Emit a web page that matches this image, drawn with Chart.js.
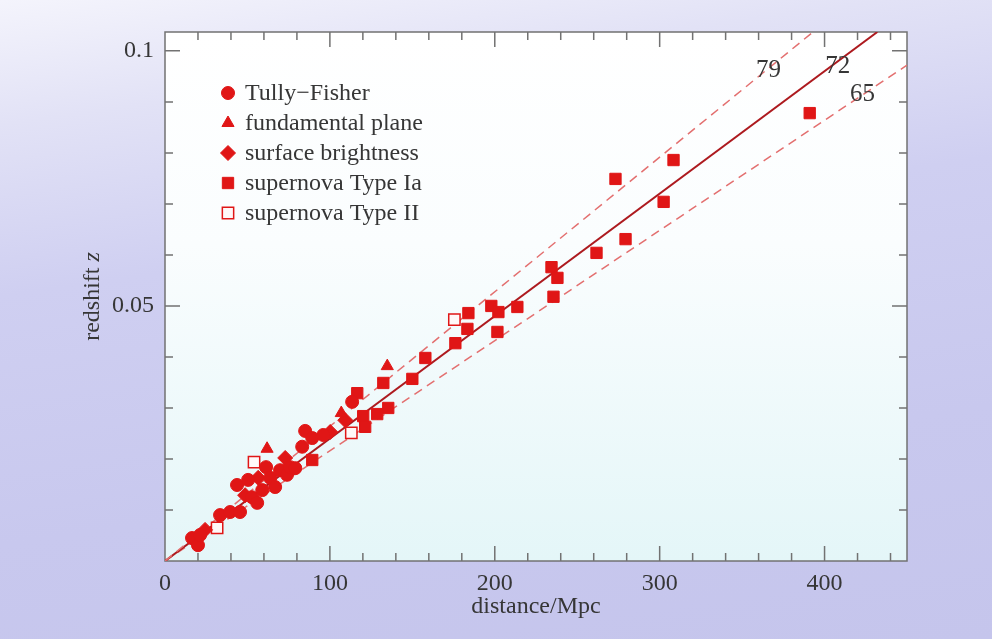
<!DOCTYPE html>
<html>
<head>
<meta charset="utf-8">
<title>Hubble diagram</title>
<script src="https://cdn.jsdelivr.net/npm/chart.js@4.4.1/dist/chart.umd.min.js"></script>
<style>
  html, body { margin: 0; padding: 0; }
  body {
    width: 992px; height: 639px; overflow: hidden;
    background: linear-gradient(172deg, #f4f4fc 0%, #e2e2f6 16%, #cfcff1 38%, #c8c8ee 70%, #c5c5ec 100%);
  }
  #wrap { position: relative; width: 992px; height: 639px; }
</style>
</head>
<body>
<div id="wrap"><canvas id="hubble"></canvas></div>
<script>
// distance (Mpc), redshift z
var tullyFisher = [
  [16.4, 0.0045], [20, 0.0031], [21.3, 0.0051], [33.4, 0.0090], [39.5, 0.0096],
  [43.7, 0.0149], [45.5, 0.0096], [50.4, 0.0159], [52.8, 0.0125], [55.9, 0.0114],
  [59, 0.0139], [61.3, 0.0184], [63.8, 0.0163], [66.8, 0.0145], [69.8, 0.0178],
  [74, 0.0169], [75.9, 0.0184], [79, 0.0182], [83.2, 0.0224], [85, 0.0255],
  [89.3, 0.0241], [96, 0.0247], [113.5, 0.0312]
];
var fundamentalPlane = [[61.9, 0.0220], [106.9, 0.0290], [134.8, 0.0382]];
var surfaceBrightness = [
  [24.3, 0.0061], [48.6, 0.0129], [56.5, 0.0163], [72.9, 0.0202],
  [100.2, 0.0253], [109.3, 0.0276]
];
var snIa = [
  [89.3, 0.0198], [116.6, 0.0329], [120.2, 0.0284], [121.4, 0.0263], [128.7, 0.0288],
  [132.4, 0.0349], [135.4, 0.0300], [150, 0.0357], [157.9, 0.0398], [176.1, 0.0427],
  [183.4, 0.0455], [184, 0.0486], [197.9, 0.0500], [202.2, 0.0488], [201.6, 0.0449],
  [213.7, 0.0498], [234.4, 0.0576], [238, 0.0555], [235.6, 0.0518], [261.7, 0.0604],
  [279.3, 0.0631], [273.2, 0.0749], [302.4, 0.0704], [308.4, 0.0786], [391, 0.0878]
];
var snII = [[31.6, 0.0065], [54, 0.0194], [113, 0.0251], [175.5, 0.0473]];

// Hubble lines (endpoints)
var h79 = [[0, 0], [393, 0.1037]];
var h72 = [[0, 0], [432, 0.1037]];
var h65 = [[0, 0], [450, 0.0972]];
var lineLabels = [['79', 366, 0.0961], ['72', 408, 0.0969], ['65', 423, 0.0914]];

var xTicks = [0, 100, 200, 300, 400];
var yTicks = [0.05, 0.1];

var red = '#e01616';
var serif = "'Liberation Serif', 'DejaVu Serif', serif";
var textColor = '#363636';

function pts(arr) {
  return arr.map(function(p) { return {x: p[0], y: p[1]}; });
}

function markerSet(label, arr, style, radius, fill, bw) {
  return {
    label: label,
    data: pts(arr),
    pointStyle: style,
    pointRadius: radius,
    pointBackgroundColor: fill,
    pointBorderColor: red,
    pointBorderWidth: bw,
    showLine: false,
    inLegend: true,
    order: 0
  };
}

function hubbleLine(arr, color, width, dash) {
  return {
    type: 'line',
    data: pts(arr),
    borderColor: color,
    borderWidth: width,
    borderDash: dash,
    pointRadius: 0,
    showLine: true,
    fill: false,
    order: 5
  };
}

var plotBackground = {
  id: 'plotBackground',
  beforeDraw: function(chart) {
    var a = chart.chartArea, ctx = chart.ctx;
    var g = ctx.createLinearGradient(0, a.top, 0, a.bottom);
    g.addColorStop(0, '#ffffff');
    g.addColorStop(0.4, '#fafdfe');
    g.addColorStop(1, '#e4f6f8');
    ctx.save();
    ctx.fillStyle = g;
    ctx.fillRect(a.left, a.top, a.right - a.left, a.bottom - a.top);
    ctx.restore();
  }
};

var frameTicks = {
  id: 'frameTicks',
  beforeDatasetsDraw: function(chart) {
    var a = chart.chartArea, ctx = chart.ctx;
    var xs = chart.scales.x, ys = chart.scales.y;
    ctx.save();
    ctx.strokeStyle = '#727272';
    ctx.lineWidth = 1.5;
    ctx.strokeRect(a.left, a.top, a.right - a.left, a.bottom - a.top);
    ctx.beginPath();
    for (var i = 1; i * 20 < 450; i++) {
      var px = xs.getPixelForValue(i * 20);
      var len = (i % 5 === 0) ? 15 : 8;
      ctx.moveTo(px, a.bottom); ctx.lineTo(px, a.bottom - len);
      ctx.moveTo(px, a.top); ctx.lineTo(px, a.top + len);
    }
    for (var j = 1; j <= 10; j++) {
      var py = ys.getPixelForValue(j / 100);
      var l2 = (j % 5 === 0) ? 15 : 8;
      ctx.moveTo(a.left, py); ctx.lineTo(a.left + l2, py);
      ctx.moveTo(a.right, py); ctx.lineTo(a.right - l2, py);
    }
    ctx.stroke();
    ctx.restore();
  }
};

var annotations = {
  id: 'annotations',
  afterDatasetsDraw: function(chart) {
    var ctx = chart.ctx, a = chart.chartArea;
    var xs = chart.scales.x, ys = chart.scales.y;
    ctx.save();
    ctx.fillStyle = textColor;
    ctx.textAlign = 'center';
    ctx.textBaseline = 'middle';
    ctx.font = '25px ' + serif;
    lineLabels.forEach(function(l) {
      ctx.fillText(l[0], xs.getPixelForValue(l[1]), ys.getPixelForValue(l[2]));
    });

    // legend
    var y = 93;
    chart.data.datasets.forEach(function(ds) {
      if (!ds.inLegend) return;
      ctx.fillStyle = ds.pointBackgroundColor;
      ctx.strokeStyle = ds.pointBorderColor;
      ctx.lineWidth = ds.pointBorderWidth;
      Chart.helpers.drawPoint(ctx, {
        pointStyle: ds.pointStyle, radius: ds.pointRadius,
        borderWidth: ds.pointBorderWidth, rotation: 0
      }, 228, y);
      ctx.fillStyle = textColor;
      ctx.textAlign = 'left';
      ctx.font = '24px ' + serif;
      ctx.fillText(ds.label, 245, y + 1);
      y += 30;
    });

    // y axis title with italic z
    var t1 = 'redshift ', t2 = 'z';
    ctx.font = '24px ' + serif;
    var w1 = ctx.measureText(t1).width;
    ctx.font = 'italic 24px ' + serif;
    var w2 = ctx.measureText(t2).width;
    ctx.translate(93, (a.top + a.bottom) / 2);
    ctx.rotate(-Math.PI / 2);
    ctx.textAlign = 'left';
    ctx.fillStyle = textColor;
    ctx.font = '24px ' + serif;
    ctx.fillText(t1, -(w1 + w2) / 2, 0);
    ctx.font = 'italic 24px ' + serif;
    ctx.fillText(t2, -(w1 + w2) / 2 + w1, 0);
    ctx.restore();
  }
};

new Chart(document.getElementById('hubble').getContext('2d'), {
  type: 'scatter',
  data: {
    datasets: [
      markerSet('Tully\u2212Fisher', tullyFisher, 'circle', 6.5, red, 1),
      markerSet('fundamental plane', fundamentalPlane, 'triangle', 7, red, 1),
      markerSet('surface brightness', surfaceBrightness, 'rectRot', 7.5, red, 1),
      markerSet('supernova Type Ia', snIa, 'rect', 8, red, 1),
      markerSet('supernova Type II', snII, 'rect', 8, '#fff8f8', 1.5),
      hubbleLine(h79, '#e36f6f', 1.5, [9, 6]),
      hubbleLine(h72, '#ad1a1f', 2, []),
      hubbleLine(h65, '#e36f6f', 1.5, [9, 6])
    ]
  },
  options: {
    responsive: true,
    maintainAspectRatio: false,
    animation: false,
    layout: { padding: { top: 32, right: 85, left: 0, bottom: 0 } },
    plugins: {
      legend: { display: false },
      tooltip: { enabled: false }
    },
    scales: {
      x: {
        type: 'linear',
        min: 0, max: 450,
        grid: { display: false, drawTicks: false },
        border: { display: false },
        afterBuildTicks: function(scale) {
          scale.ticks = xTicks.map(function(v) { return {value: v}; });
        },
        afterFit: function(scale) { scale.height = 78; },
        ticks: {
          padding: 8,
          color: textColor,
          maxRotation: 0,
          font: { family: serif, size: 24 },
          callback: function(v) { return String(v); }
        },
        title: {
          display: true,
          text: 'distance/Mpc',
          color: textColor,
          font: { family: serif, size: 24 },
          padding: { top: 0, bottom: 18 }
        }
      },
      y: {
        type: 'linear',
        min: 0, max: 0.1037,
        grid: { display: false, drawTicks: false },
        border: { display: false },
        afterBuildTicks: function(scale) {
          scale.ticks = yTicks.map(function(v) { return {value: v}; });
        },
        afterFit: function(scale) { scale.width = 165; },
        ticks: {
          padding: 11,
          color: textColor,
          font: { family: serif, size: 24 },
          callback: function(v) { return String(v); }
        }
      }
    }
  },
  plugins: [plotBackground, frameTicks, annotations]
});
</script>
</body>
</html>
